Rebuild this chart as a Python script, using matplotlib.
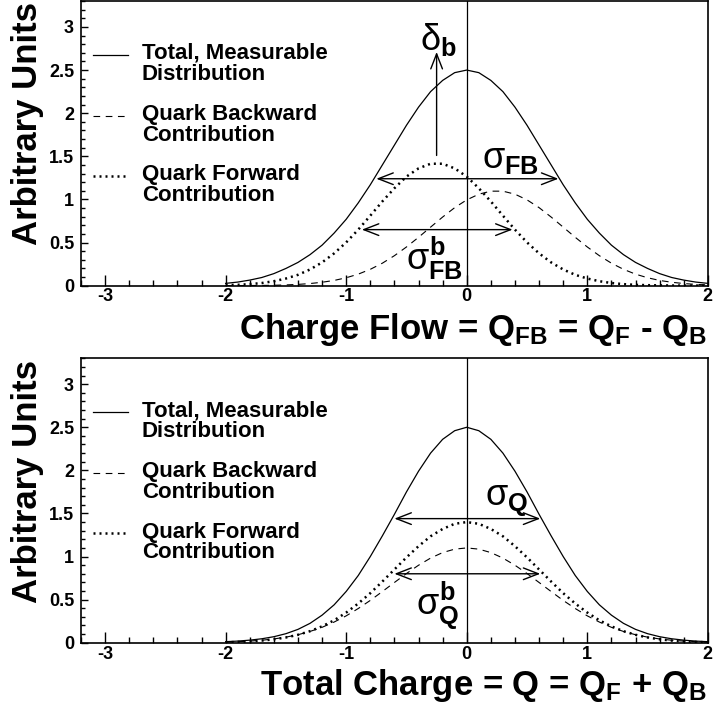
import matplotlib
matplotlib.use('Agg')
import matplotlib.pyplot as plt
from matplotlib.ticker import MultipleLocator

plt.rcParams['font.family'] = ['Liberation Sans', 'DejaVu Sans']
plt.rcParams['mathtext.fontset'] = 'custom'
plt.rcParams['mathtext.rm'] = 'Liberation Sans'
plt.rcParams['mathtext.it'] = 'Liberation Sans'
plt.rcParams['mathtext.bf'] = 'Liberation Sans:bold'

# x positions of the sampled curves
x = [-2.0, -1.9, -1.8, -1.7, -1.6, -1.5, -1.4, -1.3, -1.2, -1.1, -1.0,
     -0.9, -0.8, -0.7, -0.6, -0.5, -0.4, -0.3, -0.2, -0.1, 0.0,
     0.1, 0.2, 0.3, 0.4, 0.5, 0.6, 0.7, 0.8, 0.9, 1.0,
     1.1, 1.2, 1.3, 1.4, 1.5, 1.6, 1.7, 1.8, 1.9, 2.0]

# panel 1: charge flow Q_FB
flow_total = [0.027, 0.042, 0.065, 0.095, 0.14, 0.20, 0.27, 0.36, 0.47, 0.61, 0.77,
              0.96, 1.17, 1.40, 1.63, 1.86, 2.07, 2.25, 2.38, 2.47, 2.50,
              2.47, 2.38, 2.25, 2.07, 1.86, 1.63, 1.40, 1.17, 0.96, 0.77,
              0.61, 0.47, 0.36, 0.27, 0.20, 0.14, 0.095, 0.065, 0.042, 0.027]
flow_fwd = [0.006, 0.010, 0.018, 0.031, 0.052, 0.083, 0.126, 0.188, 0.270, 0.375, 0.502,
            0.650, 0.812, 0.977, 1.13, 1.265, 1.36, 1.414, 1.414, 1.36, 1.265,
            1.13, 0.977, 0.812, 0.650, 0.502, 0.375, 0.270, 0.188, 0.126, 0.083,
            0.052, 0.031, 0.018, 0.010, 0.006, 0.004, 0.002, 0.001, 0.001, 0.0]
flow_bwd = [0.001, 0.001, 0.002, 0.003, 0.005, 0.009, 0.015, 0.025, 0.040, 0.061, 0.092,
            0.134, 0.190, 0.261, 0.348, 0.449, 0.561, 0.679, 0.796, 0.905, 0.995,
            1.061, 1.096, 1.096, 1.061, 0.995, 0.905, 0.796, 0.679, 0.561, 0.449,
            0.348, 0.261, 0.190, 0.134, 0.092, 0.061, 0.040, 0.025, 0.015, 0.009]

# panel 2: total charge Q
q_total = [0.012, 0.019, 0.03, 0.046, 0.07, 0.105, 0.155, 0.225, 0.32, 0.44, 0.595,
           0.78, 1.00, 1.24, 1.49, 1.75, 1.99, 2.20, 2.36, 2.46, 2.50,
           2.46, 2.36, 2.20, 1.99, 1.75, 1.49, 1.24, 1.00, 0.78, 0.595,
           0.44, 0.32, 0.225, 0.155, 0.105, 0.07, 0.046, 0.03, 0.019, 0.012]
q_fwd = [0.005, 0.009, 0.016, 0.025, 0.040, 0.061, 0.092, 0.134, 0.19, 0.26, 0.35,
         0.455, 0.575, 0.71, 0.85, 0.99, 1.12, 1.235, 1.32, 1.38, 1.40,
         1.38, 1.32, 1.235, 1.12, 0.99, 0.85, 0.71, 0.575, 0.455, 0.35,
         0.26, 0.19, 0.134, 0.092, 0.061, 0.040, 0.025, 0.016, 0.009, 0.005]
q_bwd = [0.007, 0.012, 0.019, 0.029, 0.044, 0.065, 0.093, 0.131, 0.179, 0.240, 0.312,
         0.397, 0.491, 0.594, 0.699, 0.803, 0.899, 0.982, 1.046, 1.086, 1.10,
         1.086, 1.046, 0.982, 0.899, 0.803, 0.699, 0.594, 0.491, 0.397, 0.312,
         0.240, 0.179, 0.131, 0.093, 0.065, 0.044, 0.029, 0.019, 0.012, 0.007]

# width arrows: (x_left, x_right, y)
sig_fb = (-0.75, 0.76, 1.24)
sig_fb_b = (-0.87, 0.38, 0.65)
delta_b = (-0.25, 1.51, 2.71)   # x, y_start, y_end
sig_q = (-0.60, 0.61, 1.44)
sig_q_b = (-0.60, 0.61, 0.80)

legend_lines = [('Total, Measurable', 'Distribution', '-'),
                ('Quark Backward', 'Contribution', '--'),
                ('Quark Forward', 'Contribution', ':')]

fig = plt.figure(figsize=(7.14, 7.07), dpi=100)
ax1 = fig.add_axes([0.1134, 0.5959, 0.878, 0.4026])
ax2 = fig.add_axes([0.1134, 0.0909, 0.878, 0.4023])

dash = (0, (6, 5))
dots = (0, (0.8, 1.6))


def dbl_arrow(ax, x0, x1, y):
    ax.annotate('', xy=(x1, y), xytext=(x0, y),
                arrowprops=dict(arrowstyle='<->,head_length=0.9,head_width=0.35',
                                lw=1, color='black', mutation_scale=12,
                                shrinkA=0, shrinkB=0))


def panel(ax, tot, bwd, fwd):
    ax.plot(x, tot, color='black', lw=0.9)
    ax.plot(x, bwd, color='black', lw=0.8, linestyle=dash)
    ax.plot(x, fwd, color='black', lw=1.8, linestyle=dots)
    ax.axvline(0, color='black', lw=0.9)
    ax.set_xlim(-3.2, 2.0)
    ax.set_ylim(0, 3.3)
    ax.xaxis.set_major_locator(MultipleLocator(1))
    ax.xaxis.set_minor_locator(MultipleLocator(0.2))
    ax.yaxis.set_major_locator(MultipleLocator(0.5))
    ax.yaxis.set_minor_locator(MultipleLocator(0.1))
    ax.xaxis.set_major_formatter(plt.FuncFormatter(lambda v, p: '%g' % v))
    ax.yaxis.set_major_formatter(plt.FuncFormatter(lambda v, p: '%g' % v))
    ax.tick_params(axis='x', which='major', direction='in', length=8, width=1, pad=2)
    ax.tick_params(axis='x', which='minor', direction='in', length=4, width=1)
    ax.tick_params(axis='y', which='major', direction='in', length=5, width=1, pad=5)
    ax.tick_params(axis='y', which='minor', direction='in', length=3, width=1)
    for lab in ax.get_xticklabels() + ax.get_yticklabels():
        lab.set_fontweight('bold')
        lab.set_fontsize(13)
    for s in ax.spines.values():
        s.set_linewidth(1.2)
    # legend drawn by hand, ROOT style
    ys = [(0.811, 0.816, 0.741), (0.597, 0.601, 0.527), (0.387, 0.389, 0.316)]
    for (l1, l2, ls), (yl, y1, y2) in zip(legend_lines, ys):
        if ls == '-':
            ax.plot([0.019, 0.075], [yl, yl], transform=ax.transAxes, color='black', lw=0.9)
        elif ls == '--':
            ax.plot([0.019, 0.075], [yl, yl], transform=ax.transAxes, color='black',
                    lw=0.8, linestyle=dash)
        else:
            ax.plot([0.019, 0.075], [yl, yl], transform=ax.transAxes, color='black',
                    lw=1.8, linestyle=dots)
        ax.text(0.097, y1, l1, transform=ax.transAxes, fontsize=16,
                fontweight='bold', va='center', ha='left')
        ax.text(0.097, y2, l2, transform=ax.transAxes, fontsize=16,
                fontweight='bold', va='center', ha='left')


panel(ax1, flow_total, flow_bwd, flow_fwd)
panel(ax2, q_total, q_bwd, q_fwd)

dbl_arrow(ax1, *sig_fb)
dbl_arrow(ax1, *sig_fb_b)
ax1.annotate('', xy=(delta_b[0], delta_b[2]), xytext=(delta_b[0], delta_b[1]),
             arrowprops=dict(arrowstyle='->,head_length=0.9,head_width=0.35',
                             lw=1, color='black', mutation_scale=12,
                             shrinkA=0, shrinkB=0))
ax1.text(-0.24, 2.86, r'$\delta_{\mathbf{b}}$', fontsize=26, ha='center', va='center')
ax1.text(0.36, 1.47, r'$\sigma_{\mathbf{FB}}$', fontsize=26, ha='center', va='center')
ax1.text(-0.27, 0.32, r'$\sigma_{\mathbf{FB}}^{\mathbf{b}}$', fontsize=26, ha='center', va='center')

dbl_arrow(ax2, *sig_q)
dbl_arrow(ax2, *sig_q_b)
ax2.text(0.33, 1.65, r'$\sigma_{\mathbf{Q}}$', fontsize=26, ha='center', va='center')
ax2.text(-0.24, 0.43, r'$\sigma_{\mathbf{Q}}^{\mathbf{b}}$', fontsize=26, ha='center', va='center')

# axis titles, ROOT style (aligned to the axis end)
fig.text(0.991, 0.521, r'Charge Flow = Q$_{\mathbf{FB}}$ = Q$_{\mathbf{F}}$ - Q$_{\mathbf{B}}$',
         fontsize=25, fontweight='bold', ha='right', va='baseline')
fig.text(0.991, 0.017, r'Total Charge = Q = Q$_{\mathbf{F}}$ + Q$_{\mathbf{B}}$',
         fontsize=25, fontweight='bold', ha='right', va='baseline')
fig.text(0.038, 0.997, 'Arbitrary Units', fontsize=25, fontweight='bold',
         rotation=90, ha='center', va='top')
fig.text(0.038, 0.491, 'Arbitrary Units', fontsize=25, fontweight='bold',
         rotation=90, ha='center', va='top')

fig.savefig('out.png', dpi=100)
